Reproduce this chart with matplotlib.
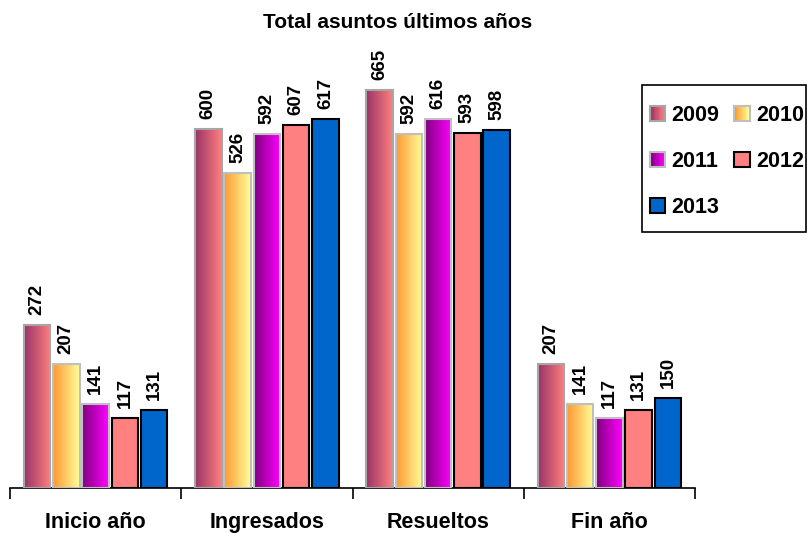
import numpy as np
import matplotlib
matplotlib.use("Agg")
from matplotlib import pyplot as plt
from matplotlib.colors import LinearSegmentedColormap
from matplotlib.legend_handler import HandlerBase
from matplotlib.patches import Rectangle

plt.rcParams["font.family"] = ["Liberation Sans", "DejaVu Sans"]
plt.rcParams["font.weight"] = "bold"

categories = ["Inicio año", "Ingresados", "Resueltos", "Fin año"]
years = ["2009", "2010", "2011", "2012", "2013"]
v2009 = [272, 600, 665, 207]
v2010 = [207, 526, 592, 141]
v2011 = [141, 592, 616, 117]
v2012 = [117, 607, 593, 131]
v2013 = [131, 617, 598, 150]
series = [v2009, v2010, v2011, v2012, v2013]

# (left colour, right colour) for gradient fills, plain string -> solid fill
fills = [("#993366", "#FF8080"), ("#FF9933", "#FFFF99"), ("#800080", "#FF00FF"),
         "#FF8080", "#0066CC"]
edges = ["#A6A6A6", "#BFBFBF", "#BFBFBF", "black", "black"]


class GradientHandler(HandlerBase):
    def __init__(self, c0, c1, edge, n=12):
        super().__init__()
        self.c0, self.c1, self.edge, self.n = c0, c1, edge, n

    def create_artists(self, legend, orig_handle, xdescent, ydescent,
                       width, height, fontsize, trans):
        cmap = LinearSegmentedColormap.from_list("g", [self.c0, self.c1])
        arts = []
        w = width / self.n
        for i in range(self.n):
            arts.append(Rectangle((-xdescent + i * w, -ydescent), w * 1.05, height,
                                  facecolor=cmap(i / (self.n - 1)), edgecolor="none",
                                  transform=trans))
        arts.append(Rectangle((-xdescent, -ydescent), width, height, facecolor="none",
                              edgecolor=self.edge, lw=1.5, transform=trans))
        return arts


fig = plt.figure(figsize=(8.1, 5.33), dpi=100)
W, H = 810, 533
ax = fig.add_axes([10 / W, (H - 488) / H, 685 / W, 479 / H])

x = np.arange(len(categories))
step = 0.171
width = 0.155
handles = []
handler_map = {}
for i, (vals, fill, ec) in enumerate(zip(series, fills, edges)):
    pos = x + (i - 2) * step
    grad = isinstance(fill, tuple)
    bars = ax.bar(pos, vals, width, facecolor="none" if grad else fill,
                  edgecolor=ec, linewidth=1.5, zorder=3)
    if grad:
        cmap = LinearSegmentedColormap.from_list("g%d" % i, list(fill))
        for b in bars:
            im = ax.imshow(np.linspace(0, 1, 64).reshape(1, -1), cmap=cmap,
                           extent=[b.get_x(), b.get_x() + b.get_width(), 0, b.get_height()],
                           aspect="auto", zorder=2, interpolation="bilinear")
            im.set_clip_path(b)
        h = Rectangle((0, 0), 1, 1)
        handler_map[h] = GradientHandler(fill[0], fill[1], ec)
    else:
        h = Rectangle((0, 0), 1, 1, facecolor=fill, edgecolor=ec, lw=1.5)
    handles.append(h)
    for px, v in zip(pos, vals):
        ax.annotate(str(v), (px, v), xytext=(0, 7), textcoords="offset points",
                    rotation=90, ha="center", va="bottom", fontsize=13.5,
                    fontweight="bold")

ax.set_xlim(-0.5, len(categories) - 0.5)
ax.set_ylim(0, 800)
for s in ["left", "right", "top"]:
    ax.spines[s].set_visible(False)
ax.spines["bottom"].set_linewidth(1.2)
ax.set_yticks([])
ax.set_xticks(np.arange(len(categories) + 1) - 0.5)
ax.set_xticklabels([])
ax.set_xticks(x, minor=True)
ax.set_xticklabels(categories, minor=True, fontsize=15.5, fontweight="bold")
ax.tick_params(axis="x", which="major", length=8, width=1.2, direction="out")
ax.tick_params(axis="x", which="minor", length=0, pad=17)

fig.text(398 / W, 1 - 22 / H, "Total asuntos últimos años", ha="center", va="center",
         fontsize=15, fontweight="bold")

# legend box drawn separately so its padding can differ from the entries
fig.patches.append(Rectangle((642 / W, 1 - 232 / H), 164 / W, 147 / H,
                             transform=fig.transFigure, facecolor="white",
                             edgecolor="black", lw=1.2, zorder=1))

# legend fills column by column; reorder so it reads row by row
order = [0, 2, 4, 1, 3]
leg = fig.legend([handles[k] for k in order], [years[k] for k in order],
                 handler_map=handler_map, ncol=2,
                 loc="upper left", bbox_to_anchor=(650 / W, 1 - 105 / H),
                 fontsize=15.5, frameon=False, handlelength=0.7,
                 handleheight=0.7, handletextpad=0.3, columnspacing=0.7,
                 labelspacing=1.17, borderpad=0, borderaxespad=0)
leg.set_zorder(2)

fig.savefig("out.png", dpi=100)
